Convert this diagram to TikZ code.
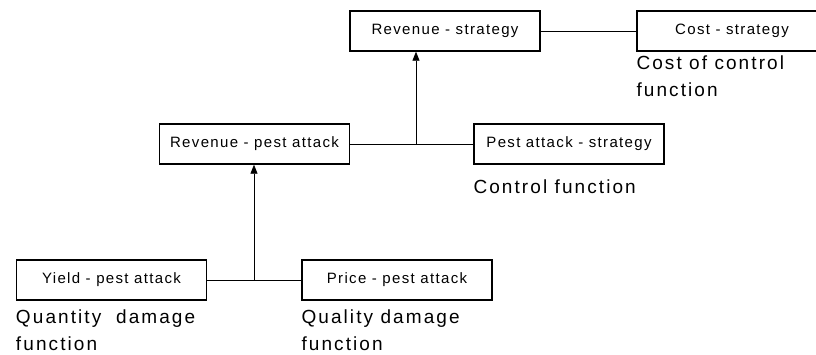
\documentclass[tikz,border=0pt]{standalone}
\usepackage{fontspec}
\setmainfont[LetterSpace=11]{Liberation Sans}
\newfontfamily\boxfont[LetterSpace=9]{Liberation Sans}
\usetikzlibrary{positioning,arrows.meta}
\tikzset{box/.style={draw,line width=1.4pt,minimum width=190pt,minimum height=40pt,inner sep=0pt,font=\boxfont\fontsize{15}{17}\selectfont},
  link/.style={line width=0.8pt},
  note/.style={inner sep=0pt,align=left,font=\fontsize{19}{27}\selectfont}}

\begin{document}
\begin{tikzpicture}[x=1pt,y=-1pt]
    \useasboundingbox (0,0) rectangle (816,354);
    \node[box] (Yield) at (111.5,280) {Yield - pest attack};
    \node[box] (Price) at (397,280) {Price - pest attack};
    \node[box] (RevPest) at (254.5,144) {Revenue - pest attack};
    \node[box] (PestStrat) at (569,144) {Pest attack - strategy};
    \node[box] (RevStrat) at (445,31) {Revenue - strategy};
    \node[box] (CostStrat) at (732,31) {Cost - strategy};
    \node[note,below right=9pt and 0pt of Yield.south west] (QuantNote) {Quantity\ \ damage\\function};
    \node[note,below right=9pt and 0pt of Price.south west] (QualNote) {Quality damage\\function};
    \node[note,below right=15pt and 0pt of PestStrat.south west] (CtrlNote) {Control function};
    \node[note,below right=4pt and 0pt of CostStrat.south west] (CostNote) {Cost of control\\function};
    \coordinate (J1) at (254,280);
    \coordinate (J2) at (416,144);
    \draw[link] (Yield) -- (Price);
    \draw[link] (RevPest) -- (PestStrat);
    \draw[link] (RevStrat) -- (CostStrat);
    \draw[link,-{Triangle[length=9pt,width=7pt]}] (J1) -- (J1 |- RevPest.south);
    \draw[link,-{Triangle[length=9pt,width=7pt]}] (J2) -- (J2 |- RevStrat.south);
\end{tikzpicture}
\end{document}
